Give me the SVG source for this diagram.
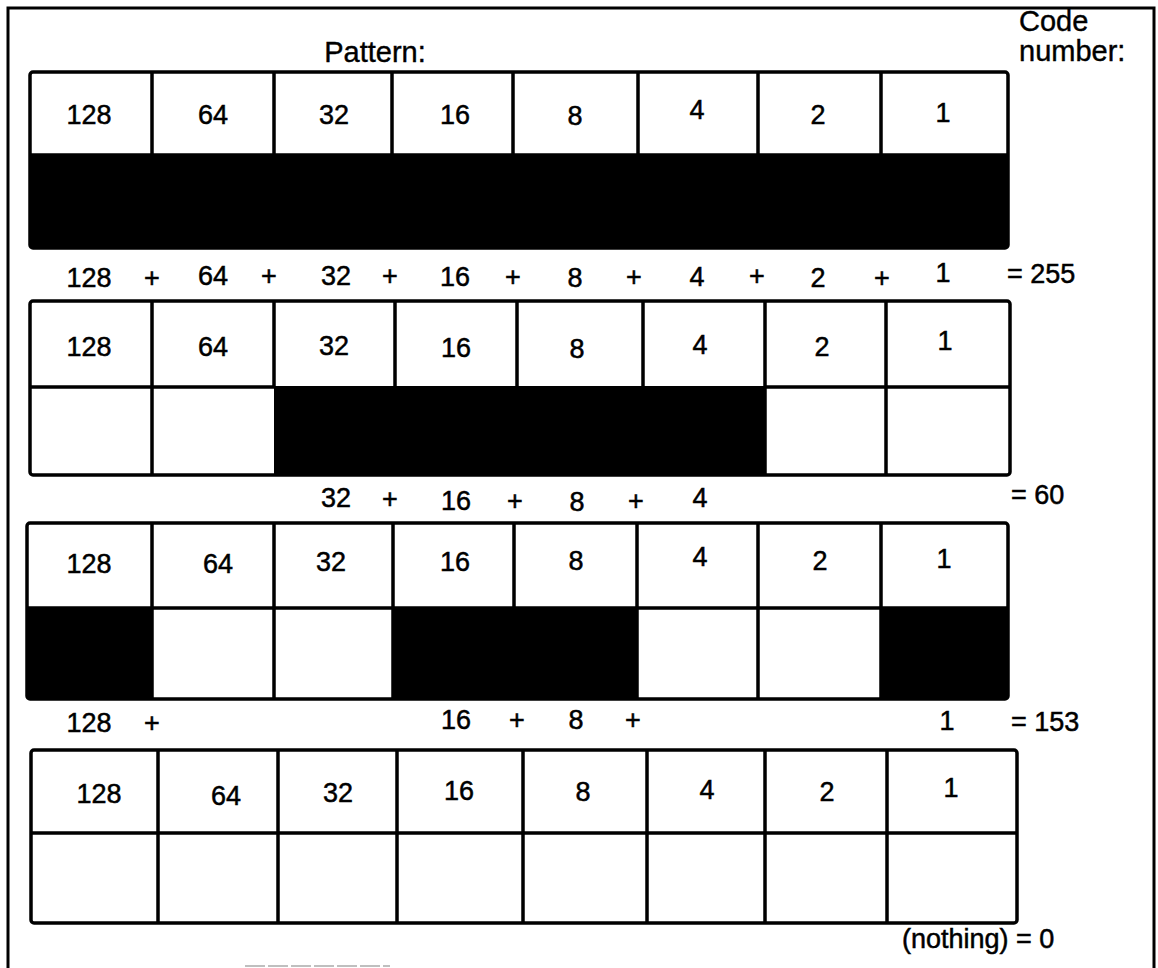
<svg xmlns="http://www.w3.org/2000/svg" width="1158" height="968" viewBox="0 0 1158 968">
<style>
.t{font-family:"Liberation Sans",Arial,sans-serif;font-size:27px;fill:#000;stroke:#000;stroke-width:0.5;text-anchor:middle}
.h{font-family:"Liberation Sans",Arial,sans-serif;font-size:29px;fill:#000;stroke:#000;stroke-width:0.4}
.l{font-family:"Liberation Sans",Arial,sans-serif;font-size:27px;fill:#000;stroke:#000;stroke-width:0.5}
.g{fill:none;stroke:#000;stroke-width:3.5;stroke-linejoin:round}
.f{fill:#000}
</style>
<rect width="1158" height="968" fill="#fff"/>
<path d="M8 975 V8 H1154 V975" fill="none" stroke="#000" stroke-width="3"/>
<line x1="245" y1="966" x2="390" y2="966" stroke="#aaa" stroke-width="1.5" stroke-dasharray="20 3"/>
<text class="h" x="375" y="62" text-anchor="middle">Pattern:</text>
<text class="h" x="1019" y="31">Code</text>
<text class="h" x="1019" y="61">number:</text>

<g id="grid1">
<rect class="f" x="30" y="155" width="978" height="93" rx="3"/>
<rect class="g" x="30" y="72" width="978" height="176" rx="3"/>
<path class="g" d="M152 72V155M274 72V155M392 72V155M513 72V155M638 72V155M758 72V155M881 72V155M30 155H1008"/>
<text class="t" x="89" y="124">128</text><text class="t" x="213" y="124">64</text><text class="t" x="334" y="124">32</text><text class="t" x="455" y="124">16</text><text class="t" x="575" y="125">8</text><text class="t" x="697" y="119">4</text><text class="t" x="818" y="124">2</text><text class="t" x="943" y="122">1</text>
</g>
<g id="sum1">
<text class="t" x="89" y="287">128</text><text class="t" x="152" y="287">+</text><text class="t" x="213" y="285">64</text><text class="t" x="269" y="285">+</text><text class="t" x="336" y="285">32</text><text class="t" x="390" y="285">+</text><text class="t" x="455" y="286">16</text><text class="t" x="513" y="286">+</text><text class="t" x="575" y="287">8</text><text class="t" x="634" y="286">+</text><text class="t" x="697" y="286">4</text><text class="t" x="757" y="285">+</text><text class="t" x="818" y="287">2</text><text class="t" x="882" y="287">+</text><text class="t" x="943" y="282">1</text>
<text class="l" x="1007" y="283">= 255</text>
</g>

<g id="grid2">
<rect class="f" x="274" y="386" width="491" height="89"/>
<rect class="g" x="30" y="301" width="980" height="174" rx="3"/>
<path class="g" d="M152 301V475M274 301V387M395 301V387M517 301V387M643 301V387M765 301V475M886 301V475M30 387H274M765 387H1010"/>
<text class="t" x="89" y="356">128</text><text class="t" x="213" y="356">64</text><text class="t" x="334" y="355">32</text><text class="t" x="456" y="357">16</text><text class="t" x="577" y="358">8</text><text class="t" x="700" y="354">4</text><text class="t" x="822" y="356">2</text><text class="t" x="945" y="350">1</text>
</g>
<g id="sum2">
<text class="t" x="336" y="507">32</text><text class="t" x="390" y="508">+</text><text class="t" x="456" y="510">16</text><text class="t" x="515" y="510">+</text><text class="t" x="577" y="511">8</text><text class="t" x="636" y="510">+</text><text class="t" x="700" y="507">4</text>
<text class="l" x="1011" y="504">= 60</text>
</g>

<g id="grid3">
<rect class="f" x="27" y="607" width="125" height="92"/>
<rect class="f" x="393" y="607" width="244" height="92"/>
<rect class="f" x="881" y="607" width="127" height="92"/>
<rect class="g" x="27" y="523" width="981" height="176" rx="3"/>
<path class="g" d="M152 523V699M274 523V699M393 523V699M514 523V607M637 523V699M758 523V699M881 523V699M27 608H1008"/>
<text class="t" x="89" y="573">128</text><text class="t" x="218" y="573">64</text><text class="t" x="331" y="571">32</text><text class="t" x="455" y="571">16</text><text class="t" x="576" y="570">8</text><text class="t" x="700" y="566">4</text><text class="t" x="820" y="570">2</text><text class="t" x="944" y="568">1</text>
</g>
<g id="sum3">
<text class="t" x="89" y="732">128</text><text class="t" x="152" y="732">+</text><text class="t" x="456" y="729">16</text><text class="t" x="517" y="729">+</text><text class="t" x="576" y="729">8</text><text class="t" x="633" y="729">+</text><text class="t" x="947" y="730">1</text>
<text class="l" x="1011" y="731">= 153</text>
</g>

<g id="grid4">
<rect class="g" x="31" y="750" width="986" height="173" rx="3"/>
<path class="g" d="M158 750V923M278 750V923M397 750V923M523 750V923M647 750V923M765 750V923M887 750V923M31 833H1017"/>
<text class="t" x="99" y="803">128</text><text class="t" x="226" y="805">64</text><text class="t" x="338" y="802">32</text><text class="t" x="459" y="800">16</text><text class="t" x="583" y="801">8</text><text class="t" x="707" y="799">4</text><text class="t" x="827" y="801">2</text><text class="t" x="951" y="797">1</text>
<text class="l" x="902" y="948">(nothing) = 0</text>
</g>
</svg>
